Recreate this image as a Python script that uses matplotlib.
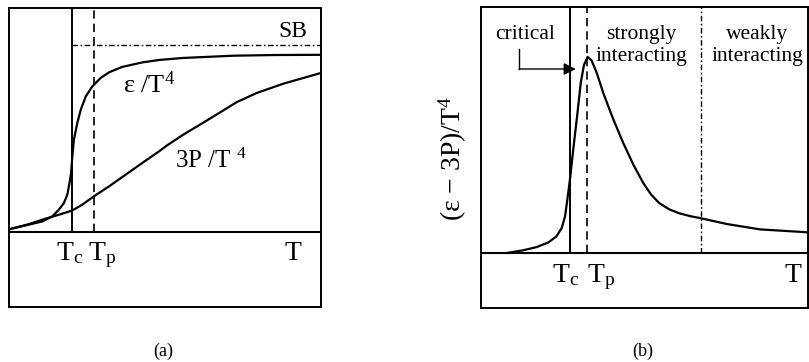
import matplotlib
matplotlib.use('Agg')
import matplotlib.pyplot as plt

plt.rcParams['font.family'] = ['Liberation Serif', 'DejaVu Serif']
plt.rcParams['mathtext.fontset'] = 'custom'
plt.rcParams['mathtext.rm'] = 'Liberation Serif'
plt.rcParams['mathtext.it'] = 'Liberation Serif:italic'

# panel (a): energy density and pressure (T scaled 0..1, baseline at 0)
t_eps = [0.0, 0.064, 0.107, 0.139, 0.160, 0.176, 0.187, 0.194, 0.199, 0.203,
         0.208, 0.219, 0.230, 0.246, 0.267, 0.294, 0.321, 0.363, 0.427, 0.481,
         0.558, 0.719, 0.85, 1.0]
eps = [0.012, 0.033, 0.047, 0.070, 0.100, 0.129, 0.167, 0.219, 0.263, 0.338,
       0.412, 0.487, 0.546, 0.605, 0.650, 0.688, 0.713, 0.737, 0.757, 0.768,
       0.777, 0.787, 0.790, 0.791]
t_p = [0.0, 0.064, 0.107, 0.160, 0.203, 0.235, 0.272, 0.321, 0.374, 0.427,
       0.481, 0.505, 0.558, 0.612, 0.665, 0.729, 0.793, 0.879, 1.0]
p3 = [0.012, 0.035, 0.055, 0.077, 0.096, 0.122, 0.159, 0.204, 0.256, 0.308,
      0.360, 0.385, 0.434, 0.479, 0.524, 0.579, 0.620, 0.662, 0.710]
tc_a, tp_a, sb = 0.202, 0.272, 0.835

# panel (b): interaction measure
t_b = [0.079, 0.129, 0.170, 0.206, 0.231, 0.247, 0.257, 0.264, 0.272, 0.282,
       0.295, 0.305, 0.315, 0.326, 0.338, 0.354, 0.374, 0.405, 0.435, 0.466,
       0.496, 0.520, 0.545, 0.575, 0.605, 0.639, 0.673, 0.751, 0.853, 1.0]
delta = [0.0, 0.011, 0.024, 0.043, 0.068, 0.102, 0.149, 0.217, 0.298, 0.420,
         0.569, 0.691, 0.765, 0.797, 0.783, 0.732, 0.650, 0.542, 0.447, 0.359,
         0.285, 0.238, 0.203, 0.178, 0.162, 0.150, 0.141, 0.118, 0.096, 0.084]
tc_b, tp_b, tw_b = 0.272, 0.324, 0.673

fig = plt.figure(figsize=(8.09, 3.62), dpi=100)
ax1 = fig.add_axes([9/809, 55/362, 312/809, 299/362])
ax2 = fig.add_axes([481/809, 54/362, 327/809, 301/362])

for ax in (ax1, ax2):
    ax.set_xticks([])
    ax.set_yticks([])
    for s in ax.spines.values():
        s.set_linewidth(1.4)
    ax.set_xlim(0, 1)
    ax.axhline(0, color='black', lw=1.5)

lw = 1.6
dash = (0, (5, 3))
dashdot = (0, (4, 1.8, 1.2, 1.8))

# (a)
ax1.set_ylim(-0.335, 1)
ax1.plot(t_eps, eps, color='black', lw=lw)
ax1.plot(t_p, p3, color='black', lw=lw)
ax1.plot([tc_a, tc_a], [0, 1], color='black', lw=1.4)
ax1.plot([tp_a, tp_a], [0, 1], color='black', lw=1.2, ls=dash)
ax1.plot([tc_a, 1], [sb, sb], color='black', lw=1.0, ls=dashdot)
ax1.text(0.955, 0.87, 'SB', fontsize=17, ha='right', va='baseline')
ax1.text(0.365, 0.62, 'ε /T$^4$', fontsize=19, ha='left', va='baseline')
ax1.text(0.532, 0.286, '3P /T $^4$', fontsize=18, ha='left', va='baseline')
ax1.text(0.195, -0.125, r'T$_\mathrm{c}$', fontsize=20, ha='center', va='baseline')
ax1.text(0.297, -0.125, r'T$_\mathrm{p}$', fontsize=20, ha='center', va='baseline')
ax1.text(0.91, -0.125, 'T', fontsize=20, ha='center', va='baseline')

# (b)
ax2.set_ylim(-0.2236, 1)
ax2.plot(t_b, delta, color='black', lw=lw)
ax2.plot([tc_b, tc_b], [0, 1], color='black', lw=1.4)
ax2.plot([tp_b, tp_b], [0, 1], color='black', lw=1.2, ls=dash)
ax2.plot([tw_b, tw_b], [0, 1], color='black', lw=1.0, ls=dashdot)
ax2.text(0.135, 0.89, 'critical', fontsize=15.5, ha='center', va='center')
ax2.text(0.49, 0.89, 'strongly', fontsize=15.5, ha='center', va='center')
ax2.text(0.49, 0.797, 'interacting', fontsize=15.5, ha='center', va='center')
ax2.text(0.844, 0.89, 'weakly', fontsize=15.5, ha='center', va='center')
ax2.text(0.844, 0.797, 'interacting', fontsize=15.5, ha='center', va='center')
ax2.plot([0.116, 0.116], [0.83, 0.748], color='black', lw=1.0)
ax2.annotate('', xy=(0.29, 0.748), xytext=(0.116, 0.748),
             arrowprops=dict(arrowstyle='-|>', color='black', lw=1.0,
                             mutation_scale=18, shrinkA=0, shrinkB=0))
ax2.text(0.26, -0.118, r'T$_\mathrm{c}$', fontsize=20, ha='center', va='baseline')
ax2.text(0.366, -0.118, r'T$_\mathrm{p}$', fontsize=20, ha='center', va='baseline')
ax2.text(0.954, -0.118, 'T', fontsize=20, ha='center', va='baseline')

fig.text(453/809, 204/362, '(ε − 3P)/T$^4$', fontsize=20, rotation=90,
         ha='center', va='center')

fig.text(163/809, 11/362, '(a)', fontsize=13, ha='center', va='center')
fig.text(643/809, 11/362, '(b)', fontsize=13, ha='center', va='center')

fig.savefig('out.png', dpi=100)
